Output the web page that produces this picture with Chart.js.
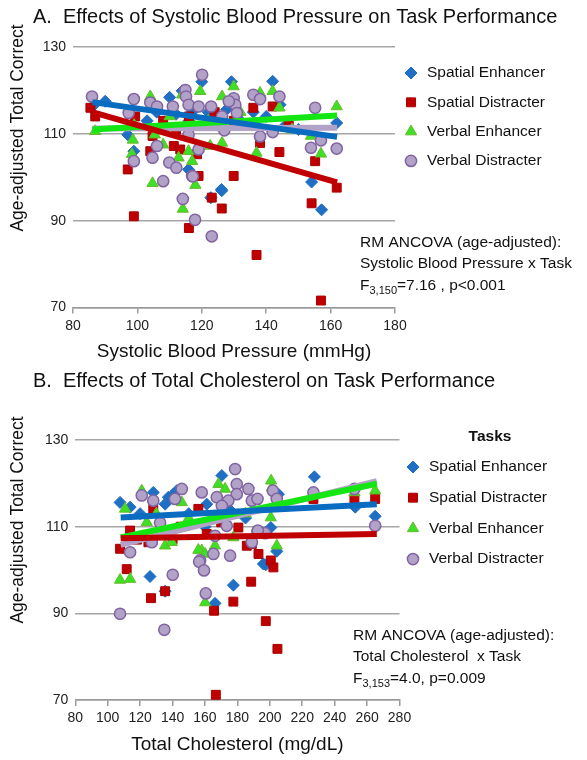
<!DOCTYPE html>
<html>
<head>
<meta charset="utf-8">
<script src="https://cdn.jsdelivr.net/npm/chart.js@4.4.1/dist/chart.umd.min.js"></script>
<style>
  html, body { margin: 0; padding: 0; background: #fff; }
  #wrapA { position: absolute; left: 0; top: 0; width: 587px; height: 370px; }
  #wrapB { position: absolute; left: 0; top: 370px; width: 587px; height: 390px; }
</style>
</head>
<body>
<div id="wrapA"><canvas id="chartA"></canvas></div>
<div id="wrapB"><canvas id="chartB"></canvas></div>
<script>
// task names (legend order)
const taskNames = ['Spatial Enhancer', 'Spatial Distracter', 'Verbal Enhancer', 'Verbal Distracter'];

// axis ticks
const yTicks = [70, 90, 110, 130];
const sbpTicks = [80, 100, 120, 140, 160, 180];
const cholTicks = [80, 100, 120, 140, 160, 180, 200, 220, 240, 260, 280];

// Panel A: systolic blood pressure vs age-adjusted total correct, [x, y]
const sbpSpatialEnh = [[86.9,116.9],[90,117.5],[97,109.8],[98.9,106],[103,113],[106,115],[110,118.4],[112,114.5],[113.9,119.9],[116,113],[117,115],[120,122],[122,115],[125,112],[127.7,115.6],[129.2,122],[132,113],[136,115],[140,114],[142,122.1],[144.3,116.7],[115.9,101.8],[126.1,97.2],[122.8,95.3],[126.2,96.9],[154.1,98.9],[157.2,92.5],[161.9,112.5],[150,111],[146,112]];
const sbpSpatialDis = [[85.4,116],[86.9,114],[99.3,114],[104,106],[104.7,109.5],[111.3,107.2],[113.3,106.4],[118.5,105.3],[97,101.8],[119,100.3],[129.9,100.3],[123.1,95.3],[126.2,92.8],[98.9,91],[116,88.3],[137,82.1],[157,71.6],[136,116],[142,116.3],[138.1,107.9],[144.1,105.8],[155.2,103.7],[161.9,97.6],[154.1,94],[108,113],[116,114],[124,115],[130,113],[147,113],[112,111]];
const sbpVerbalEnh = [[86.9,110.6],[104,118.6],[119.5,119.8],[129.9,120.9],[126.3,118.6],[98.3,105.3],[105.4,109.8],[108,107.5],[112.8,104.5],[115.9,106],[117,103.7],[104.7,98.6],[118,98.2],[114.1,92.7],[122.6,107.2],[126.3,107.9],[113.9,119],[138.1,119.4],[142,119.8],[144.1,116],[153.9,109.5],[157,105.4],[161.9,116.3],[137,105.6],[99,112],[110,114],[122,113],[132,115],[148,111],[98.6,108.6]];
const sbpVerbalDis = [[85.9,118.6],[98.9,118],[104,117.2],[106.1,116.3],[111,116.3],[114.9,120.1],[115.1,118.6],[115.9,116.7],[120.1,123.6],[119,116.3],[122.9,116.3],[126.3,114],[129.9,118.2],[130.4,116.7],[130.9,114.8],[128.4,117.5],[127,110.8],[97.3,114.8],[115.9,109.8],[106.1,107.2],[104.7,104.5],[98.9,103.7],[109.9,103.4],[112.1,102.2],[119,106.4],[117,100.3],[108,99.1],[136,119],[138.1,118],[144.1,118.6],[155.2,116],[138.1,109.4],[142,110.4],[157,108.5],[153.9,106.8],[161.9,106.6],[114.1,95],[117.9,90.2],[123.1,86.4],[117.2,100.2]];

// Panel A fitted lines, [x, y] end points
const sbpFitSpatialEnh = [[86,117.3],[162,109.3]];
const sbpFitSpatialDis = [[86,115],[162,98.8]];
const sbpFitVerbalEnh = [[86,111],[162,114.2]];
const sbpFitVerbalDis = [[86,111.2],[162,111.4]];

// Panel B: total cholesterol vs age-adjusted total correct, [x, y]
const cholSpatialEnh = [[107.6,115.6],[113.8,114.5],[128.1,117.9],[135.4,115.2],[137.4,116.8],[140.5,117.5],[142.6,118.3],[161.1,115.2],[170.4,121.8],[227.5,121.5],[265,112.4],[252.7,114.5],[200.6,109.8],[204.3,104.3],[196,101.4],[205.3,117.5],[126.1,98.5],[135.4,95.1],[177.5,96.5],[166.2,92.3],[197.5,101.2],[150,113],[175,114],[185,112],[120,113],[160,110],[190,116]];
const cholSpatialDis = [[107.6,104.9],[111.7,100.2],[113.8,109.1],[128.1,114.1],[125.1,106.4],[155.9,114.1],[180.6,109.8],[188.9,106],[226.9,116.4],[252.2,116.4],[265,116.4],[193,103.7],[200.6,102.2],[202.2,100.6],[126.7,93.5],[135.4,95.1],[165.6,90.6],[177.5,92.7],[166.7,71.2],[188.5,97.3],[197.5,88.2],[204.7,81.8],[185.8,105.6],[161.1,108.3],[145,110],[170,111],[140,107],[118,107]];
const cholVerbalEnh = [[110.7,114.1],[121,118.3],[145.7,115.6],[168.3,119.8],[172.4,118.7],[124.1,111],[135.4,105.6],[158,104.5],[201.2,119],[200.8,120.6],[265,118.3],[252.2,117.9],[200.6,112.1],[204.3,105.6],[107.6,97.7],[113.8,97.9],[160.1,92.5],[155.9,104.6],[160.1,103.7],[166.2,105.6],[177.5,107.5],[139.5,106.4],[150,112],[185,113],[130,113]];
const cholVerbalDis = [[113.8,104.1],[121,117.2],[128.1,116],[141.5,116.4],[145.7,118.7],[132.3,110.9],[127.2,106.4],[158,117.9],[167.3,116.8],[178.6,123.3],[179.6,119.8],[179.6,117.5],[186.8,118.7],[174.4,116],[170.4,114.8],[188.9,116],[173.4,110.2],[166.2,107.9],[165.2,103.7],[157,102.2],[175.5,103.3],[188.9,106.4],[192.4,116.4],[201.9,118.3],[204.3,116.4],[226.9,117.9],[252.2,118.7],[265,110.2],[192.4,108.8],[197.1,108.5],[107.6,89.9],[134.9,86.2],[140.1,98.9],[156.4,101.9],[159.4,99.9],[160.5,94.6],[192.6,109.1]];

// Panel B fitted lines
const cholFitSpatialEnh = [[108,112.1],[266,115.2]];
const cholFitSpatialDis = [[108,107.3],[266,108.3]];
const cholFitVerbalEnh = [[108,107.5],[266,119.9]];
const cholFitVerbalDis = [[108,105.8],[266,120.5]];

const FONT = '"Liberation Sans", Arial, sans-serif';

// marker + line styles per task
const styles = [
  { pointStyle: 'rectRot', radius: 6, bg: '#1F6FC4', border: '#1F6FC4', bw: 1, line: '#0A6CC0', order: 4 },
  { pointStyle: 'rect', radius: 6.3, bg: '#C00000', border: '#A80000', bw: 1, line: '#C00000', order: 3 },
  { pointStyle: 'triangle', radius: 6.5, bg: '#3CE024', border: '#6AB82A', bw: 1, line: '#14E614', order: 2 },
  { pointStyle: 'circle', radius: 5.6, bg: '#B3A2C7', border: '#8064A2', bw: 1.5, line: '#B3A2C7', order: 1 }
];

const toXY = (arr) => arr.map(([x, y]) => ({ x, y }));

// draws panel title, y title, legend and the ANCOVA note
const panelText = {
  id: 'panelText',
  afterDraw(chart, args, o) {
    const ctx = chart.ctx;
    ctx.save();
    ctx.fillStyle = '#111';
    ctx.textBaseline = 'middle';
    ctx.textAlign = 'left';
    ctx.font = '20px ' + FONT;
    ctx.fillText(o.title, o.titleX, o.titleY);

    // rotated y axis title
    ctx.save();
    ctx.translate(18, o.yTitleY);
    ctx.rotate(-Math.PI / 2);
    ctx.textAlign = 'center';
    ctx.font = '17.5px ' + FONT;
    ctx.fillText('Age-adjusted Total Correct', 0, 0);
    ctx.restore();

    if (o.legendTitle) {
      ctx.font = 'bold 15.5px ' + FONT;
      ctx.textAlign = 'center';
      ctx.fillText(o.legendTitle, o.legendTitleX, o.legendTitleY);
      ctx.textAlign = 'left';
    }
    ctx.font = '15.5px ' + FONT;
    taskNames.forEach((name, i) => {
      const s = styles[i];
      const y = o.legendY + i * o.legendStep;
      ctx.fillStyle = s.bg;
      ctx.strokeStyle = s.border;
      ctx.lineWidth = s.bw;
      Chart.helpers.drawPoint(ctx, { pointStyle: s.pointStyle, radius: s.radius, rotation: 0, borderWidth: s.bw }, o.legendX, y);
      ctx.fillStyle = '#111';
      ctx.fillText(name, o.legendX + 16, y);
    });

    ctx.font = '15.5px ' + FONT;
    ctx.fillText(o.note[0], o.noteX, o.noteY);
    ctx.fillText(o.note[1], o.noteX, o.noteY + 21);
    // F statistic with subscript degrees of freedom
    let x = o.noteX;
    const y3 = o.noteY + 43;
    ctx.fillText('F', x, y3);
    x += ctx.measureText('F').width;
    ctx.font = '11px ' + FONT;
    ctx.fillText(o.df, x, y3 + 5);
    x += ctx.measureText(o.df).width;
    ctx.font = '15.5px ' + FONT;
    ctx.fillText(o.stat, x, y3);
    ctx.restore();
  }
};

function makeChart(id, pts, fits, xTicks, geo, text) {
  const datasets = [];
  fits.forEach((f, i) => {
    datasets.push({
      type: 'line', data: toXY(f), borderColor: styles[i].line, borderWidth: 6,
      pointRadius: 0, fill: false, order: 0, borderCapStyle: 'butt'
    });
  });
  pts.forEach((p, i) => {
    const s = styles[i];
    datasets.push({
      label: taskNames[i], data: toXY(p), pointStyle: s.pointStyle, pointRadius: s.radius,
      backgroundColor: s.bg, borderColor: s.border, borderWidth: s.bw, order: s.order
    });
  });
  return new Chart(document.getElementById(id), {
    type: 'scatter',
    data: { datasets },
    options: {
      responsive: true,
      maintainAspectRatio: false,
      animation: false,
      layout: { padding: { top: geo.top, right: geo.right, left: 0, bottom: 0 } },
      plugins: { legend: { display: false }, tooltip: { enabled: false }, panelText: text },
      scales: {
        x: {
          type: 'linear', min: xTicks[0], max: xTicks[xTicks.length - 1],
          afterBuildTicks: (sc) => { sc.ticks = xTicks.map(v => ({ value: v })); },
          afterFit: (sc) => { sc.height = geo.xHeight; },
          grid: { drawOnChartArea: false, drawTicks: true, tickLength: 6, color: '#9a9a9a', lineWidth: 1.5 },
          border: { display: true, color: '#9a9a9a', width: 1.5 },
          ticks: { font: { family: FONT, size: 14 }, color: '#222', padding: 4, maxRotation: 0, autoSkip: false },
          title: { display: true, text: geo.xTitle, font: { family: FONT, size: 19 }, color: '#111', padding: { bottom: geo.xTitlePad } }
        },
        y: {
          type: 'linear', min: 70, max: 130,
          afterBuildTicks: (sc) => { sc.ticks = yTicks.map(v => ({ value: v })); },
          afterFit: (sc) => { sc.width = geo.left; },
          grid: { drawTicks: false, color: '#a6a6a6', lineWidth: 1.5 },
          border: { display: false },
          ticks: { font: { family: FONT, size: 14 }, color: '#222', padding: 7 },
          title: { display: false }
        }
      }
    },
    plugins: [panelText]
  });
}

makeChart('chartA',
  [sbpSpatialEnh, sbpSpatialDis, sbpVerbalEnh, sbpVerbalDis],
  [sbpFitSpatialEnh, sbpFitSpatialDis, sbpFitVerbalEnh, sbpFitVerbalDis],
  sbpTicks,
  { top: 47, right: 192, left: 73, xHeight: 62.5, xTitle: 'Systolic Blood Pressure (mmHg)', xTitlePad: 6.6 },
  { title: 'A.  Effects of Systolic Blood Pressure on Task Performance', titleX: 33, titleY: 17, yTitleY: 128,
    legendX: 411, legendY: 73, legendStep: 29.3,
    note: ['RM ANCOVA (age-adjusted):', 'Systolic Blood Pressure x Task'], noteX: 360, noteY: 243,
    df: '3,150', stat: '=7.16 , p<0.001' });

makeChart('chartB',
  [cholSpatialEnh, cholSpatialDis, cholVerbalEnh, cholVerbalDis],
  [cholFitSpatialEnh, cholFitSpatialDis, cholFitVerbalEnh, cholFitVerbalDis],
  cholTicks,
  { top: 70, right: 187.5, left: 75.3, xHeight: 60, xTitle: 'Total Cholesterol (mg/dL)', xTitlePad: 3.6 },
  { title: 'B.  Effects of Total Cholesterol on Task Performance', titleX: 33, titleY: 11, yTitleY: 150,
    legendTitle: 'Tasks', legendTitleX: 490, legendTitleY: 67,
    legendX: 413, legendY: 97, legendStep: 30.7,
    note: ['RM ANCOVA (age-adjusted):', 'Total Cholesterol  x Task'], noteX: 353, noteY: 266,
    df: '3,153', stat: '=4.0, p=0.009' });
</script>
</body>
</html>
